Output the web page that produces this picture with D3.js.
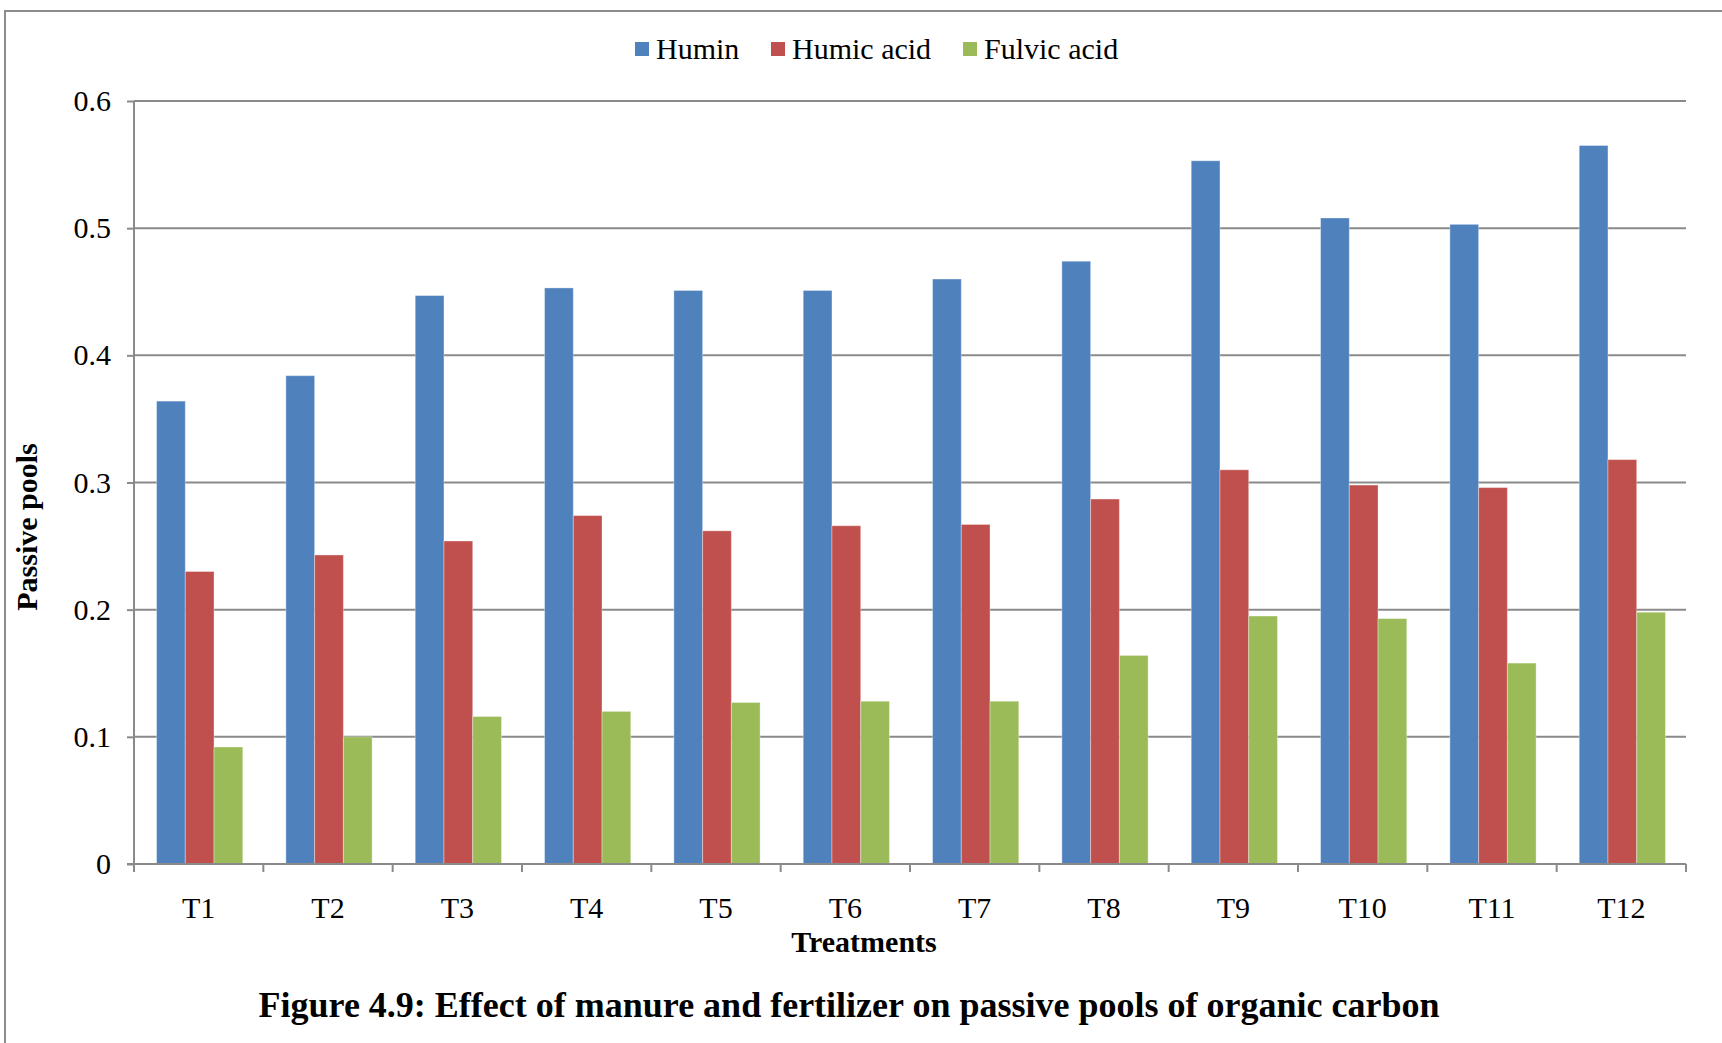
<!DOCTYPE html>
<html><head><meta charset="utf-8">
<script src="https://cdn.jsdelivr.net/npm/d3@7"></script>
<style>body{margin:0;background:#fff}svg{display:block}text{font-family:"Liberation Serif","Times New Roman",serif;fill:#000}</style>
</head><body>
<script>
const categories = ["T1","T2","T3","T4","T5","T6","T7","T8","T9","T10","T11","T12"];
const seriesNames = ["Humin","Humic acid","Fulvic acid"];
const humin = [0.364,0.384,0.447,0.453,0.451,0.451,0.460,0.474,0.553,0.508,0.503,0.565];
const humicAcid = [0.230,0.243,0.254,0.274,0.262,0.266,0.267,0.287,0.310,0.298,0.296,0.318];
const fulvicAcid = [0.092,0.100,0.116,0.120,0.127,0.128,0.128,0.164,0.195,0.193,0.158,0.198];
const yTicks = [0,0.1,0.2,0.3,0.4,0.5,0.6];
const colors = ["#4F81BD","#C0504D","#9BBB59"];
const seriesValues = [humin, humicAcid, fulvicAcid];

const W = 1722, H = 1043;
const m = {left:134, right:W-1686, top:101, bottom:H-864};
const svg = d3.select("body").append("svg").attr("width",W).attr("height",H);

svg.append("rect").attr("x",5).attr("y",11).attr("width",W+10).attr("height",H+10)
  .attr("fill","none").attr("stroke","#8c8c8c").attr("stroke-width",2);

const x0 = d3.scaleBand().domain(categories).range([m.left, W-m.right]).padding(0);
const bw = x0.bandwidth();
const groupW = bw*3/4.5;
const x1 = d3.scaleBand().domain(seriesNames).range([0, groupW]).padding(0);
const y = d3.scaleLinear().domain([0,0.6]).range([H-m.bottom, m.top]);

// gridlines
svg.append("g").selectAll("line").data(yTicks.filter(d=>d>0)).join("line")
  .attr("x1",m.left).attr("x2",W-m.right).attr("y1",d=>y(d)).attr("y2",d=>y(d))
  .attr("stroke","#8a8a8a").attr("stroke-width",2);

// bars
const data = [];
categories.forEach((c,i)=>seriesNames.forEach((s,j)=>data.push({c,s,j,v:seriesValues[j][i]})));
svg.append("g").selectAll("rect").data(data).join("rect")
  .attr("x",d=>x0(d.c)+(bw-groupW)/2+x1(d.s)+1)
  .attr("y",d=>y(d.v))
  .attr("width",x1.bandwidth())
  .attr("height",d=>y(0)-y(d.v))
  .attr("fill",d=>colors[d.j])
  .attr("stroke","rgba(255,255,255,0.35)").attr("stroke-width",1);

// y axis
const yAxis = d3.axisLeft(y).tickValues(yTicks).tickFormat(d=>d===0?"0":d3.format(".1f")(d)).tickSize(7).tickPadding(16);
const gy = svg.append("g").attr("transform",`translate(${m.left},0)`).call(yAxis);
gy.select(".domain").attr("stroke","#8a8a8a").attr("stroke-width",2).attr("d",`M0,${m.top}V${H-m.bottom}`);
gy.selectAll(".tick line").attr("stroke","#8a8a8a").attr("stroke-width",2);
gy.selectAll("text").attr("font-size",30).attr("font-family","Liberation Serif").attr("fill","#000");

// x axis
const xAxis = d3.axisBottom(x0).tickSize(0).tickPadding(33);
const gx = svg.append("g").attr("transform",`translate(0,${H-m.bottom})`).call(xAxis);
gx.select(".domain").attr("stroke","#8a8a8a").attr("stroke-width",2).attr("d",`M${m.left-7},0H${W-m.right}`);
gx.selectAll("text").attr("font-size",30).attr("font-family","Liberation Serif").attr("fill","#000");
// boundary ticks
const bounds = categories.map(c=>x0(c)).concat([W-m.right]);
gx.append("g").selectAll("line").data(bounds).join("line")
  .attr("x1",d=>d).attr("x2",d=>d).attr("y1",0).attr("y2",8)
  .attr("stroke","#8a8a8a").attr("stroke-width",2);

// legend
const legendX = [635, 771, 963];
const lg = svg.append("g").selectAll("g").data(seriesNames).join("g")
  .attr("transform",(d,i)=>`translate(${legendX[i]},49)`);
lg.append("rect").attr("x",0).attr("y",-7).attr("width",14).attr("height",14).attr("fill",(d,i)=>colors[i]);
lg.append("text").attr("x",21).attr("y",10).attr("font-size",30).text(d=>d);

// axis titles
svg.append("text").attr("x",864).attr("y",952).attr("text-anchor","middle")
  .attr("font-size",30).attr("font-weight","bold").text("Treatments");
svg.append("text").attr("transform","translate(37,527) rotate(-90)").attr("text-anchor","middle")
  .attr("font-size",30).attr("font-weight","bold").text("Passive pools");
svg.append("text").attr("x",849).attr("y",1017).attr("text-anchor","middle")
  .attr("font-size",36).attr("font-weight","bold").text("Figure 4.9: Effect of manure and fertilizer on passive pools of organic carbon");
</script>
</body></html>
